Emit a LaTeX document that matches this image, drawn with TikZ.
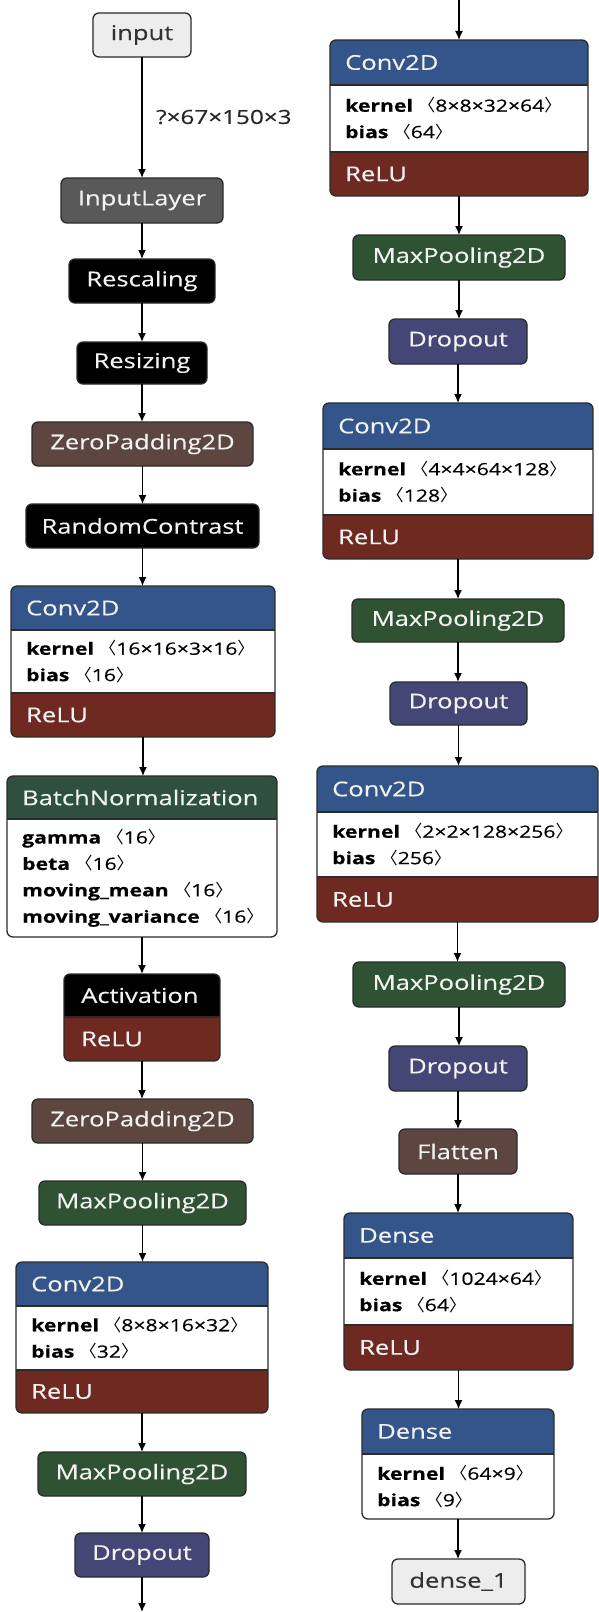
\documentclass[tikz,border=0pt]{standalone}
\usepackage{fontspec}
\setmainfont{Open Sans}[FakeStretch=1.25, FakeBold=0.3]
\newfontfamily\cjk{Noto Sans CJK SC}
\usetikzlibrary{arrows.meta}
\definecolor{cblue}{HTML}{34558A}
\definecolor{crelu}{HTML}{6E2921}
\definecolor{cpool}{HTML}{2F5233}
\definecolor{cnorm}{HTML}{2F4F40}
\definecolor{cdrop}{HTML}{444675}
\definecolor{cshape}{HTML}{5C463F}
\definecolor{cinl}{HTML}{595959}
\definecolor{cio}{HTML}{EDEDED}
\definecolor{cbd}{HTML}{2B2B2B}
\definecolor{ctxt}{HTML}{F2F2F2}
\newcommand\hfont{\fontsize{20.5}{24}\selectfont}
\newcommand\afont{\fontsize{17}{26.5}\selectfont}
\newcommand\lfont{\fontsize{19.5}{22}\selectfont}
\newcommand\attr[2]{\textbf{#1} {\cjk 〈}#2{\cjk 〉}}
\tikzset{
  bd/.style={draw=cbd, line width=1.3bp},
  sbox/.style={bd, rounded corners=6bp, inner sep=0pt, outer sep=0pt, text=ctxt, font=\hfont},
  htext/.style={anchor=west, inner sep=0pt, text=ctxt, font=\hfont},
  atext/.style={anchor=west, inner sep=0pt, align=left, text=black, font=\afont},
  edge/.style={line width=1.4bp, -{Latex[length=9bp,width=8bp]}},
}
% simple box: name x1 y1 x2 y2 fill text
\newcommand\sbx[7]{\node[sbox, fill=#6, minimum width={((#4)-(#2))*1bp}, minimum height={((#5)-(#3))*1bp}] (#1) at ({((#2)+(#4))/2},{((#3)+(#5))/2}) {#7};}
% conv-like box with ReLU footer: name x1 y1 x2 y2 yh yw header attrs
\newcommand\cvx[9]{%
  \node[inner sep=0pt, outer sep=0pt, minimum width={((#4)-(#2))*1bp}, minimum height={((#5)-(#3))*1bp}] (#1) at ({((#2)+(#4))/2},{((#3)+(#5))/2}) {};
  \begin{scope}
    \clip[rounded corners=6bp] (#2,#3) rectangle (#4,#5);
    \fill[cblue] (#2,#3) rectangle (#4,#6);
    \fill[white] (#2,#6) rectangle (#4,#7);
    \fill[crelu] (#2,#7) rectangle (#4,#5);
  \end{scope}
  \draw[bd] (#2,#6) -- (#4,#6) (#2,#7) -- (#4,#7);
  \draw[bd, rounded corners=6bp] (#2,#3) rectangle (#4,#5);
  \node[htext] at ({(#2)+15},{((#3)+(#6))/2}) {#8};
  \node[atext] at ({(#2)+15},{((#6)+(#7))/2}) {#9};
  \node[htext] at ({(#2)+15},{((#7)+(#5))/2}) {ReLU};
}
% box with header and attributes only: name x1 y1 x2 y2 yh color header attrs
\newcommand\atx[9]{%
  \node[inner sep=0pt, outer sep=0pt, minimum width={((#4)-(#2))*1bp}, minimum height={((#5)-(#3))*1bp}] (#1) at ({((#2)+(#4))/2},{((#3)+(#5))/2}) {};
  \begin{scope}
    \clip[rounded corners=6bp] (#2,#3) rectangle (#4,#5);
    \fill[#7] (#2,#3) rectangle (#4,#6);
    \fill[white] (#2,#6) rectangle (#4,#5);
  \end{scope}
  \draw[bd] (#2,#6) -- (#4,#6);
  \draw[bd, rounded corners=6bp] (#2,#3) rectangle (#4,#5);
  \node[htext] at ({(#2)+15},{((#3)+(#6))/2}) {#8};
  \node[atext] at ({(#2)+15},{((#6)+(#5))/2}) {#9};
}
\begin{document}
\begin{tikzpicture}[x=1bp, y=-1bp]
\fill[white] (0,0) rectangle (599,1612);
\useasboundingbox (0,0) rectangle (599,1612);
% ---------- left column ----------
\sbx{input}{93}{13}{191}{57}{cio}{\textcolor{black!80}{input}}
\sbx{inl}{61}{178}{223}{223}{cinl}{InputLayer}
\sbx{resc}{69}{259}{215}{303}{black}{Rescaling}
\sbx{resz}{77}{342}{207}{384}{black}{Resizing}
\sbx{zp1}{32}{422}{253}{466}{cshape}{ZeroPadding2D}
\sbx{rc}{26}{504}{259}{548}{black}{RandomContrast}
\cvx{conv1}{11}{586}{275}{737}{630}{693}{Conv2D}{\attr{kernel}{16×16×3×16}\\\attr{bias}{16}}
\atx{bn}{7}{776}{277}{937}{819}{cnorm}{BatchNormalization}{\attr{gamma}{16}\\\attr{beta}{16}\\\attr{moving\_mean}{16}\\\attr{moving\_variance}{16}}
\node[inner sep=0pt, outer sep=0pt, minimum width=156bp, minimum height=87bp] (act) at (142,1017.5) {};
\begin{scope}
  \clip[rounded corners=6bp] (64,974) rectangle (220,1061);
  \fill[black] (64,974) rectangle (220,1017);
  \fill[crelu] (64,1017) rectangle (220,1061);
\end{scope}
\draw[bd] (64,1017) -- (220,1017);
\draw[bd, rounded corners=6bp] (64,974) rectangle (220,1061);
\node[htext] at (81,995.5) {Activation};
\node[htext] at (81,1039) {ReLU};
\sbx{zp2}{32}{1099}{253}{1143}{cshape}{ZeroPadding2D}
\sbx{mp1}{39}{1181}{246}{1225}{cpool}{MaxPooling2D}
\cvx{conv2}{16}{1262}{268}{1413}{1306}{1370}{Conv2D}{\attr{kernel}{8×8×16×32}\\\attr{bias}{32}}
\sbx{mp2}{38}{1452}{246}{1496}{cpool}{MaxPooling2D}
\sbx{do1}{75}{1533}{209}{1577}{cdrop}{Dropout}
\coordinate (lend) at (142,1612);
% ---------- right column ----------
\coordinate (rtop) at (459,0);
\cvx{conv3}{330}{40}{588}{196}{85}{152}{Conv2D}{\attr{kernel}{8×8×32×64}\\\attr{bias}{64}}
\sbx{mp3}{353}{235}{565}{280}{cpool}{MaxPooling2D}
\sbx{do2}{389}{319}{527}{364}{cdrop}{Dropout}
\cvx{conv4}{323}{403}{593}{559}{449}{515}{Conv2D}{\attr{kernel}{4×4×64×128}\\\attr{bias}{128}}
\sbx{mp4}{352}{599}{564}{642}{cpool}{MaxPooling2D}
\sbx{do3}{390}{682}{527}{725}{cdrop}{Dropout}
\cvx{conv5}{317}{766}{598}{922}{812}{877}{Conv2D}{\attr{kernel}{2×2×128×256}\\\attr{bias}{256}}
\sbx{mp5}{353}{962}{565}{1007}{cpool}{MaxPooling2D}
\sbx{do4}{389}{1046}{527}{1091}{cdrop}{Dropout}
\sbx{flat}{399}{1129}{517}{1174}{cshape}{Flatten}
\cvx{dense1}{344}{1213}{573}{1370}{1258}{1325}{Dense}{\attr{kernel}{1024×64}\\\attr{bias}{64}}
\atx{dense2}{362}{1409}{554}{1519}{1454}{cblue}{Dense}{\attr{kernel}{64×9}\\\attr{bias}{9}}
\sbx{out}{392}{1559}{525}{1604}{cio}{\textcolor{black!80}{dense\_1}}
% ---------- edges ----------
\draw[edge] (input.south) -- (input.south |- inl.north);
\node[anchor=west, inner sep=0pt, font=\lfont, text=black!85] (lbl) at (156,117) {?×67×150×3};
\foreach \a/\b in {inl/resc, resc/resz, resz/zp1, zp1/rc, rc/conv1, conv1/bn, bn/act, act/zp2, zp2/mp1, mp1/conv2, conv2/mp2, mp2/do1,
  conv3/mp3, mp3/do2, do2/conv4, conv4/mp4, mp4/do3, do3/conv5, conv5/mp5, mp5/do4, do4/flat, flat/dense1, dense1/dense2, dense2/out}
  \draw[edge] (\a.south) -- (\a.south |- \b.north);
\draw[edge] (do1.south) -- (lend);
\draw[edge] (rtop) -- (rtop |- conv3.north);
\end{tikzpicture}
\end{document}
